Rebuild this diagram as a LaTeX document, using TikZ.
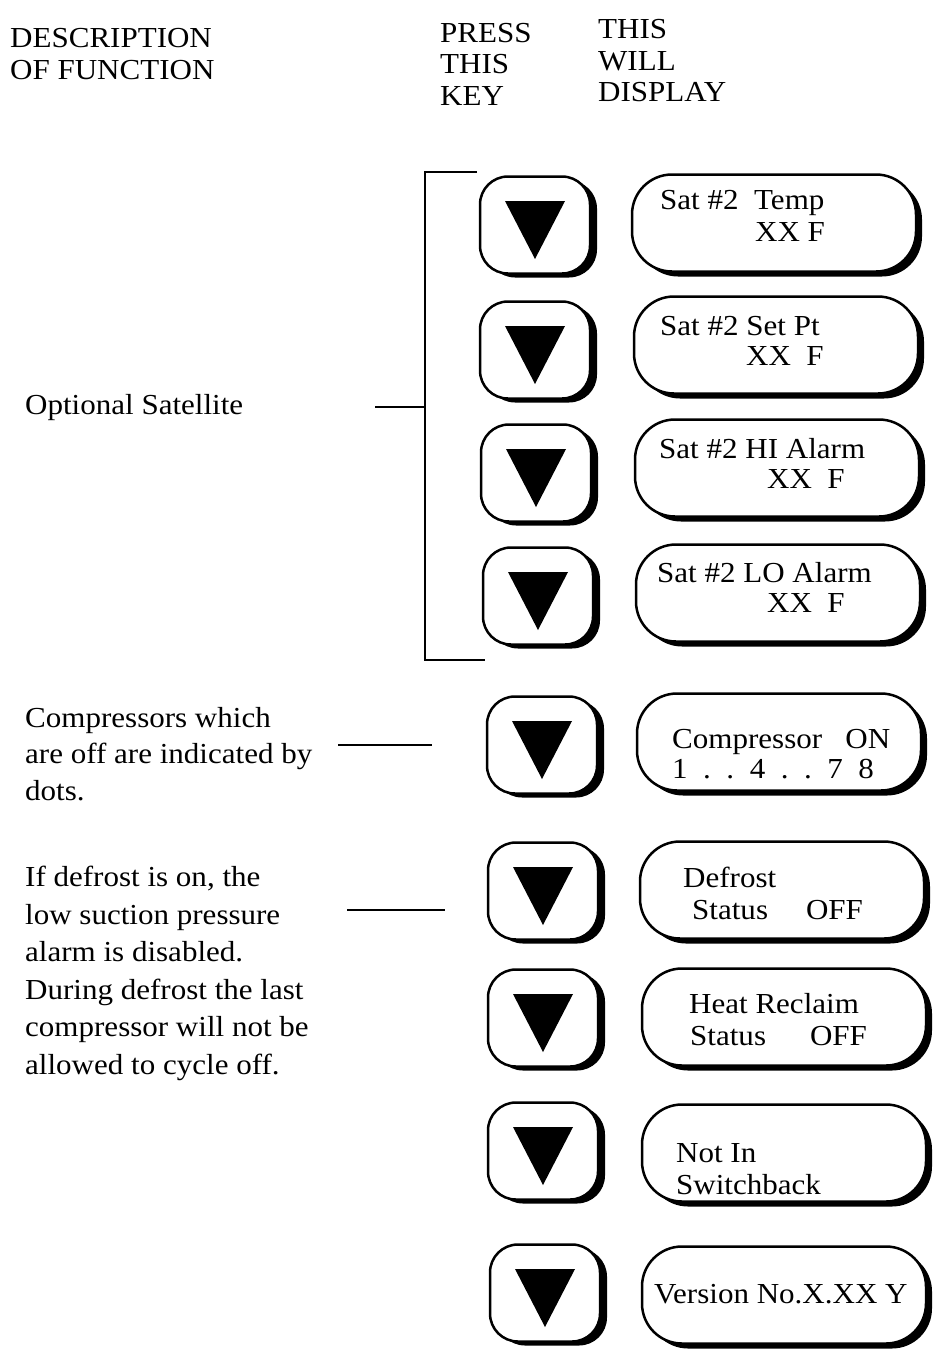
\documentclass[tikz,border=0pt]{standalone}
\usepackage{fontspec}
\setmainfont{Liberation Serif}[FakeStretch=1.07]
\begin{document}
\begin{tikzpicture}[x=1pt,y=-1pt,
  txt/.style={anchor=base west, inner sep=0pt, font=\fontsize{29}{32}\selectfont},
  keybox/.style={draw, line width=2.5pt, fill=white, rounded corners=28pt,
    minimum width=110pt, minimum height=97pt, inner sep=0pt},
  keyshadow/.style={fill=black, rounded corners=28pt,
    minimum width=110pt, minimum height=97pt, inner sep=0pt},
  dispbox/.style={draw, line width=2.5pt, fill=white, rounded corners=40pt,
    minimum width=284pt, minimum height=97pt, inner sep=0pt},
  dispshadow/.style={fill=black, rounded corners=40pt,
    minimum width=284pt, minimum height=97pt, inner sep=0pt},
  conn/.style={line width=1.8pt}]
\useasboundingbox (0,0) rectangle (938,1361);
% headers
\node[txt] (h1a) at (10,47) {DESCRIPTION};
\node[txt] (h1b) at (10,79) {OF FUNCTION};
\node[txt] (h2a) at (440,42) {PRESS};
\node[txt] (h2b) at (440,73) {THIS};
\node[txt] (h2c) at (440,105) {KEY};
\node[txt] (h3a) at (598,38) {THIS};
\node[txt] (h3b) at (598,70) {WILL};
\node[txt] (h3c) at (598,101) {DISPLAY};
% keys
\foreach \n/\x/\y in {1/535/225, 2/535/350, 3/536/473, 4/538/596, 5/542/745,
                      6/543/891, 7/543/1018, 8/543/1151, 9/545/1293} {
  \node[keyshadow] (ks\n) at (\x+7,\y+4) {};
  \node[keybox] (k\n) at (\x,\y) {};
  \fill (\x-30,\y-24) -- (\x+30,\y-24) -- (\x,\y+34) -- cycle;
}
% displays
\foreach \n/\x/\y in {1/774/223, 2/776/345, 3/777/468, 4/778/593, 5/779/742,
                      6/782/890, 7/784/1017, 8/784/1153, 9/784/1295} {
  \node[dispshadow] (ds\n) at (\x+6,\y+5) {};
  \node[dispbox] (d\n) at (\x,\y) {};
}
% display texts
\node[txt] (t1a) at (660,209) {Sat \#2\ \ Temp};
\node[txt] (t1b) at (755,241) {XX F};
\node[txt] (t2a) at (660,335) {Sat \#2 Set Pt};
\node[txt] (t2b) at (746,365) {XX\ \ F};
\node[txt] (t3a) at (659,458) {Sat \#2 HI Alarm};
\node[txt] (t3b) at (767,488) {XX\ \ F};
\node[txt] (t4a) at (657,582) {Sat \#2 LO Alarm};
\node[txt] (t4b) at (767,612) {XX\ \ F};
\node[txt] (t5a) at (672,748) {Compressor\ \ \ ON};
\node[txt] (t5b) at (672,778) {1\ \ .\ \ .\ \ 4\ \ .\ \ .\ \ 7\ \ 8};
\node[txt] (t6a) at (683,887) {Defrost};
\node[txt] (t6b) at (692,919) {Status\hspace{38pt}OFF};
\node[txt] (t7a) at (689,1013) {Heat Reclaim};
\node[txt] (t7b) at (690,1045) {Status\hspace{44pt}OFF};
\node[txt] (t8a) at (676,1162) {Not In};
\node[txt] (t8b) at (676,1194) {Switchback};
\node[txt] (t9a) at (654,1303) {Version No.X.XX Y};
% descriptions
\node[txt] (o1) at (25,414) {Optional Satellite};
\node[txt] (c1) at (25,727) {Compressors which};
\node[txt] (c2) at (25,763) {are off are indicated by};
\node[txt] (c3) at (25,800) {dots.};
\node[txt] (f1) at (25,886) {If defrost is on, the};
\node[txt] (f2) at (25,924) {low suction pressure};
\node[txt] (f3) at (25,961) {alarm is disabled.};
\node[txt] (f4) at (25,999) {During defrost the last};
\node[txt] (f5) at (25,1036) {compressor will not be};
\node[txt] (f6) at (25,1074) {allowed to cycle off.};
% bracket and leader lines
\coordinate (bt0) at (477,172);
\coordinate (bt) at (425,172);
\coordinate (bb) at (425,660);
\coordinate (bb0) at (485,660);
\coordinate (bm) at (425,407);
\coordinate (om) at (375,407);
\draw[conn] (bt0) -- (bt) -- (bb) -- (bb0);
\draw[conn] (om) -- (bm);
\coordinate (cs) at (338,745);
\coordinate (ce) at (432,745);
\draw[conn] (cs) -- (ce);
\coordinate (fs) at (347,910);
\coordinate (fe) at (445,910);
\draw[conn] (fs) -- (fe);
\end{tikzpicture}
\end{document}
